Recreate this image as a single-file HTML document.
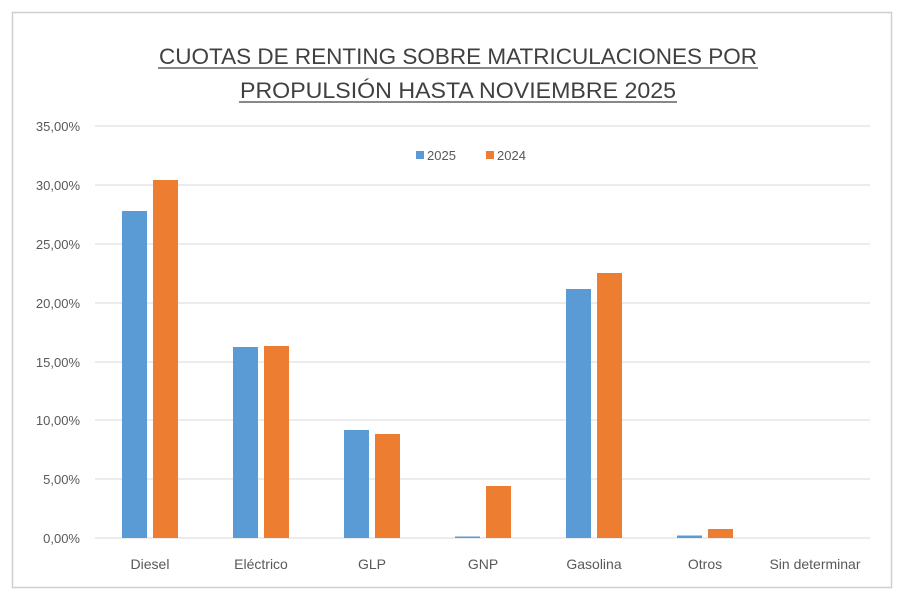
<!DOCTYPE html>
<html><head><meta charset="utf-8"><style>body{margin:0;background:#fff}svg{display:block}</style></head><body>
<svg width="900" height="600" xmlns="http://www.w3.org/2000/svg" font-family="Liberation Sans, sans-serif">
<rect x="0" y="0" width="900" height="600" fill="#fff"/>
<rect x="12.5" y="12.5" width="879" height="575" fill="#fff" stroke="#d0d0d0" stroke-width="1.5"/>
<g fill="#404040" font-size="22" text-anchor="middle">
<text x="458" y="64" textLength="598" lengthAdjust="spacingAndGlyphs">CUOTAS DE RENTING SOBRE MATRICULACIONES POR</text>
<text x="458" y="98" textLength="436" lengthAdjust="spacingAndGlyphs">PROPULSIÓN HASTA NOVIEMBRE 2025</text>
</g>
<line x1="158" y1="68" x2="758" y2="68" stroke="#404040" stroke-width="1.2"/>
<line x1="239" y1="102" x2="677" y2="102" stroke="#404040" stroke-width="1.2"/>
<g stroke="#d9d9d9" stroke-width="1">
<line x1="95" x2="870" y1="126" y2="126"/><line x1="95" x2="870" y1="185" y2="185"/>
<line x1="95" x2="870" y1="244" y2="244"/><line x1="95" x2="870" y1="303" y2="303"/>
<line x1="95" x2="870" y1="362" y2="362"/><line x1="95" x2="870" y1="420" y2="420"/>
<line x1="95" x2="870" y1="479" y2="479"/><line x1="95" x2="870" y1="538" y2="538"/>
</g>
<g fill="#595959" font-size="13" text-anchor="end">
<text x="80" y="131">35,00%</text><text x="80" y="190">30,00%</text>
<text x="80" y="249">25,00%</text><text x="80" y="308">20,00%</text>
<text x="80" y="367">15,00%</text><text x="80" y="425">10,00%</text>
<text x="80" y="484">5,00%</text><text x="80" y="543">0,00%</text>
</g>
<g fill="#5b9bd5">
<rect x="122" y="211" width="25" height="327"/>
<rect x="233" y="347" width="25" height="191"/>
<rect x="344" y="430" width="25" height="108"/>
<rect x="455" y="536.5" width="25" height="1.5"/>
<rect x="566" y="289" width="25" height="249"/>
<rect x="677" y="535.5" width="25" height="2.5"/>
</g>
<g fill="#ed7d31">
<rect x="153" y="180" width="25" height="358"/>
<rect x="264" y="346" width="25" height="192"/>
<rect x="375" y="434" width="25" height="104"/>
<rect x="486" y="486" width="25" height="52"/>
<rect x="597" y="273" width="25" height="265"/>
<rect x="708" y="529" width="25" height="9"/>
</g>
<g fill="#595959" font-size="14" text-anchor="middle">
<text x="150" y="569">Diesel</text><text x="261" y="569">Eléctrico</text>
<text x="372" y="569">GLP</text><text x="483" y="569">GNP</text>
<text x="594" y="569">Gasolina</text><text x="705" y="569">Otros</text>
<text x="815" y="569">Sin determinar</text>
</g>
<rect x="416" y="151" width="8" height="8" fill="#5b9bd5"/>
<text x="427" y="160" fill="#595959" font-size="13">2025</text>
<rect x="486" y="151" width="8" height="8" fill="#ed7d31"/>
<text x="497" y="160" fill="#595959" font-size="13">2024</text>
</svg>
</body></html>
